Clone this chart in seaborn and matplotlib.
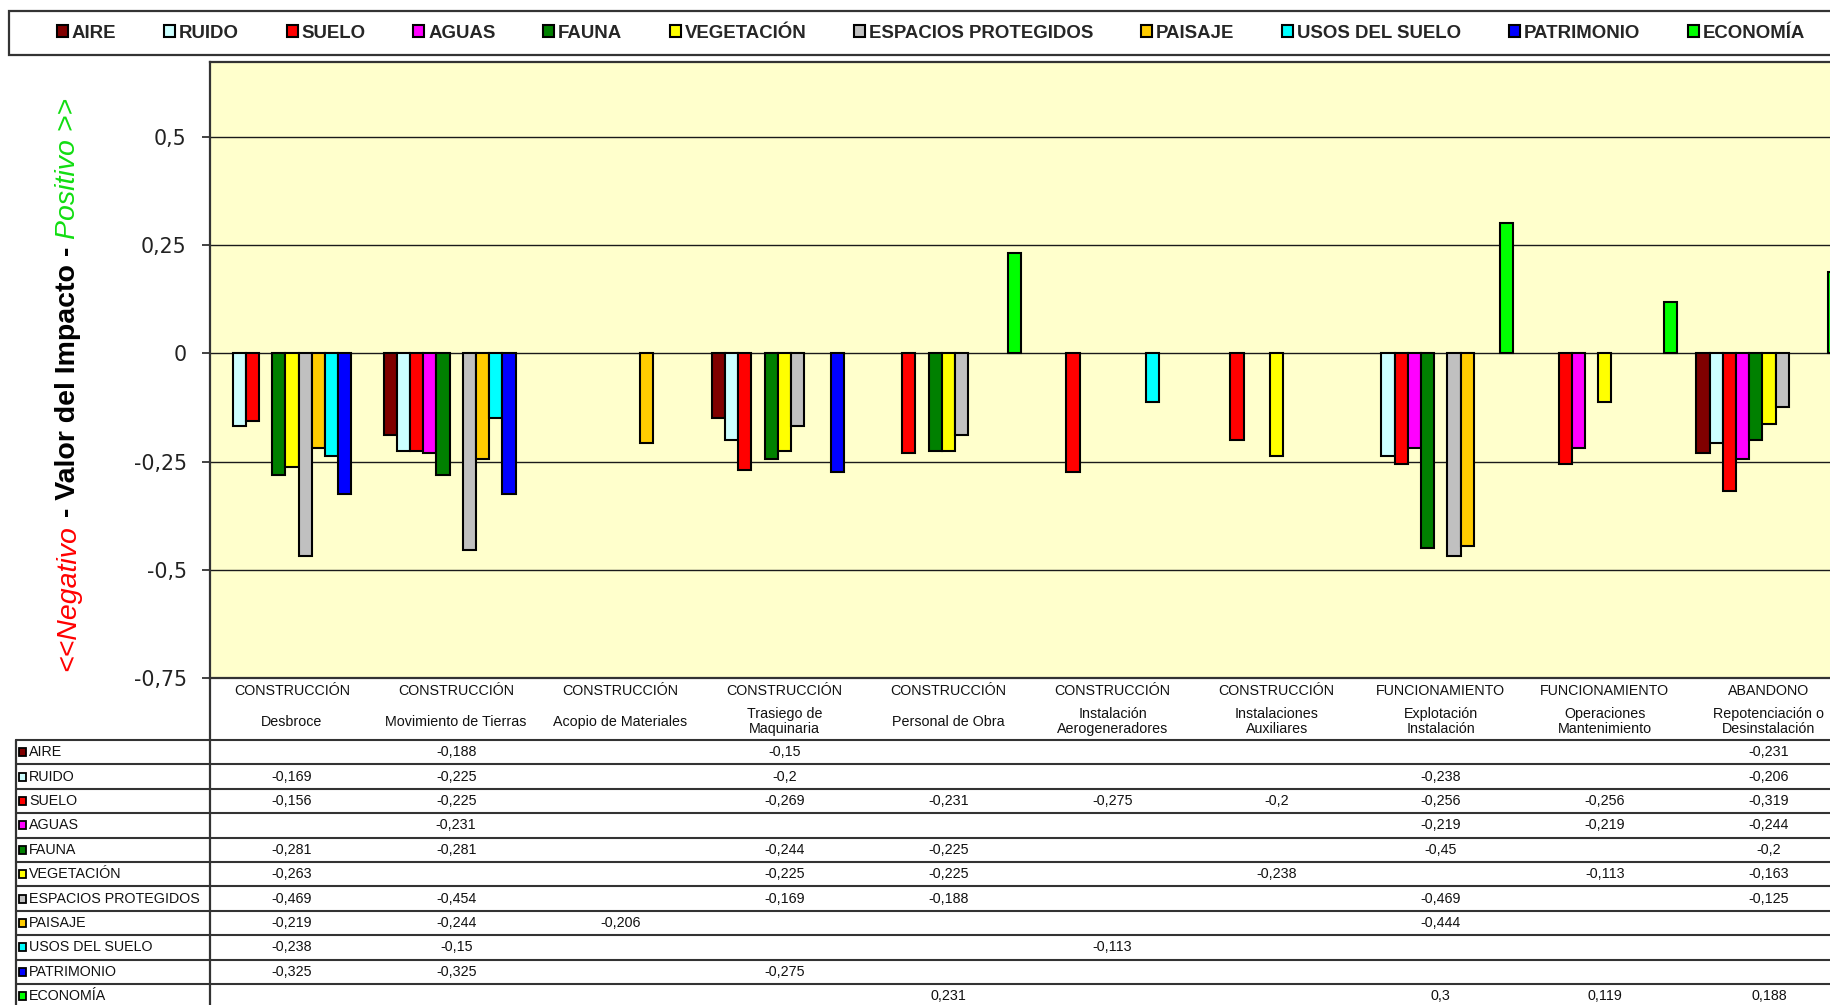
import numpy as np
import pandas as pd
import seaborn as sns
import matplotlib
matplotlib.use("Agg")
import matplotlib.pyplot as plt
from matplotlib import transforms
from matplotlib.patches import Rectangle, Patch
from matplotlib.lines import Line2D

# ---- data -------------------------------------------------------------
phases = ["CONSTRUCCIÓN"] * 7 + ["FUNCIONAMIENTO"] * 2 + ["ABANDONO"]
actions = [
    "Desbroce",
    "Movimiento de Tierras",
    "Acopio de Materiales",
    "Trasiego de\nMaquinaria",
    "Personal de Obra",
    "Instalación\nAerogeneradores",
    "Instalaciones\nAuxiliares",
    "Explotación\nInstalación",
    "Operaciones\nMantenimiento",
    "Repotenciación o\nDesinstalación",
]

factors = ["AIRE", "RUIDO", "SUELO", "AGUAS", "FAUNA", "VEGETACIÓN",
           "ESPACIOS PROTEGIDOS", "PAISAJE", "USOS DEL SUELO",
           "PATRIMONIO", "ECONOMÍA"]
colors = ["#800000", "#CCFFFF", "#FF0000", "#FF00FF", "#008000", "#FFFF00",
          "#C0C0C0", "#FFCC00", "#00FFFF", "#0000FF", "#00FF00"]

nan = np.nan
aire = [nan, -0.188, nan, -0.15, nan, nan, nan, nan, nan, -0.231]
ruido = [-0.169, -0.225, nan, -0.2, nan, nan, nan, -0.238, nan, -0.206]
suelo = [-0.156, -0.225, nan, -0.269, -0.231, -0.275, -0.2, -0.256, -0.256, -0.319]
aguas = [nan, -0.231, nan, nan, nan, nan, nan, -0.219, -0.219, -0.244]
fauna = [-0.281, -0.281, nan, -0.244, -0.225, nan, nan, -0.45, nan, -0.2]
vegetacion = [-0.263, nan, nan, -0.225, -0.225, nan, -0.238, nan, -0.113, -0.163]
espacios = [-0.469, -0.454, nan, -0.169, -0.188, nan, nan, -0.469, nan, -0.125]
paisaje = [-0.219, -0.244, -0.206, nan, nan, nan, nan, -0.444, nan, nan]
usos = [-0.238, -0.15, nan, nan, nan, -0.113, nan, nan, nan, nan]
patrimonio = [-0.325, -0.325, nan, -0.275, nan, nan, nan, nan, nan, nan]
economia = [nan, nan, nan, nan, 0.231, nan, nan, 0.3, 0.119, 0.188]

series = [aire, ruido, suelo, aguas, fauna, vegetacion, espacios,
          paisaje, usos, patrimonio, economia]

y_ticks = [0.5, 0.25, 0, -0.25, -0.5, -0.75]
y_ticklabels = ["0,5", "0,25", "0", "-0,25", "-0,5", "-0,75"]

# ---- figure -----------------------------------------------------------
sns.set_theme(style="white")
plt.rcParams["font.family"] = ["Liberation Sans", "DejaVu Sans"]

W, H = 1831, 1005
fig = plt.figure(figsize=(W / 100, H / 100), dpi=100)
fig.patch.set_facecolor("white")


def fx(px):
    return px / W


def fy(py):
    return 1 - py / H


ax = fig.add_axes([fx(210), fy(678), 1641 / W, 616 / H])
ax.set_facecolor("#FFFFCC")

rows = []
for name, vals in zip(factors, series):
    for act, v in zip(actions, vals):
        if not np.isnan(v):
            rows.append({"accion": act, "factor": name, "valor": v})
df = pd.DataFrame(rows)

sns.barplot(data=df, x="accion", y="valor", hue="factor",
            order=actions, hue_order=factors,
            palette=dict(zip(factors, colors)), saturation=1,
            width=0.885, dodge=True, errorbar=None,
            edgecolor="black", linewidth=1.5, legend=False, ax=ax)

ax.set_xlim(-0.5, 9.5)
ax.set_ylim(-0.75, 0.673)
ax.set_xticks([])
ax.set_xlabel("")
ax.set_ylabel("")
ax.set_yticks(y_ticks)
ax.set_yticklabels(y_ticklabels, fontfamily="DejaVu Sans")
ax.yaxis.grid(True, color="#1a1a1a", linewidth=1.0)
ax.set_axisbelow(True)
ax.tick_params(axis="y", left=True, direction="out", length=6, width=1.2,
               color="#222222", labelsize=14.8, labelcolor="#222222", pad=10.8)
for sp in ax.spines.values():
    sp.set_color("#333333")
    sp.set_linewidth(1.6)

# ---- y axis title in three colours ------------------------------------
renderer = fig.canvas.get_renderer()
parts = [("<<Negativo", "#FF0000", "italic", "normal"),
         (" - Valor del Impacto - ", "black", "normal", "bold"),
         ("Positivo >>", "#11DD11", "italic", "normal")]
y_cur = fy(671)
for txt, col, sty, wt in parts:
    t = fig.text(fx(68), y_cur, txt, rotation=90, ha="center", va="bottom",
                 color=col, style=sty, fontweight=wt, fontsize=20.5)
    bb = t.get_window_extent(renderer)
    y_cur = bb.y1 / H

# ---- legend -----------------------------------------------------------
fig.add_artist(Rectangle((fx(9), fy(55)), fx(1860) - fx(9), fy(11) - fy(55),
                         transform=fig.transFigure, facecolor="white",
                         edgecolor="#333333", linewidth=1.6, zorder=0))
handles = [Patch(facecolor=c, edgecolor="black", linewidth=1.5) for c in colors]
fig.legend(handles, factors, ncol=len(factors), loc="center left",
           bbox_to_anchor=(fx(57), fy(33)), frameon=False,
           borderpad=0, borderaxespad=0, handlelength=0.6, handleheight=0.6,
           handletextpad=0.2, columnspacing=2.56,
           prop={"size": 13.4, "weight": "bold", "family": "Liberation Sans"})

# ---- data table below the axis ----------------------------------------
tr = transforms.blended_transform_factory(ax.transData, fig.transFigure)
line_col = "#333333"
row_top = 740
row_h = 24.4

# vertical separators
fig.add_artist(Line2D([fx(210), fx(210)], [fy(678), fy(1010)],
                      transform=fig.transFigure, color=line_col, lw=1.6))
fig.add_artist(Line2D([fx(16), fx(16)], [fy(row_top), fy(1010)],
                      transform=fig.transFigure, color=line_col, lw=1.6))

# horizontal separators
for k in range(len(factors)):
    yy = row_top + k * row_h
    fig.add_artist(Line2D([fx(16), fx(1900)], [fy(yy), fy(yy)],
                          transform=fig.transFigure, color=line_col, lw=1.5))

# column headers
for i, (ph, act) in enumerate(zip(phases, actions)):
    fig.text(i, fy(691), ph, transform=tr, ha="center", va="center",
             fontsize=10.3, color="#111111")
    fig.text(i, fy(721.5), act, transform=tr, ha="center", va="center",
             fontsize=10.3, color="#111111", linespacing=1.15,
             multialignment="center")

# row labels and values
for r, (name, col, vals) in enumerate(zip(factors, colors, series)):
    yc = row_top + (r + 0.5) * row_h
    fig.add_artist(Rectangle((fx(19.5), fy(yc + 4)), fx(6.5), fy(yc - 4) - fy(yc + 4),
                             transform=fig.transFigure, facecolor=col,
                             edgecolor="black", linewidth=1.3))
    fig.text(fx(29), fy(yc), name, ha="left", va="center",
             fontsize=10.3, color="#111111")
    for i, v in enumerate(vals):
        if not np.isnan(v):
            label = f"{v:g}".replace(".", ",")
            fig.text(i, fy(yc), label, transform=tr, ha="center",
                     va="center", fontsize=10.3, color="#111111")

fig.savefig("out.png", dpi=100, facecolor="white")
